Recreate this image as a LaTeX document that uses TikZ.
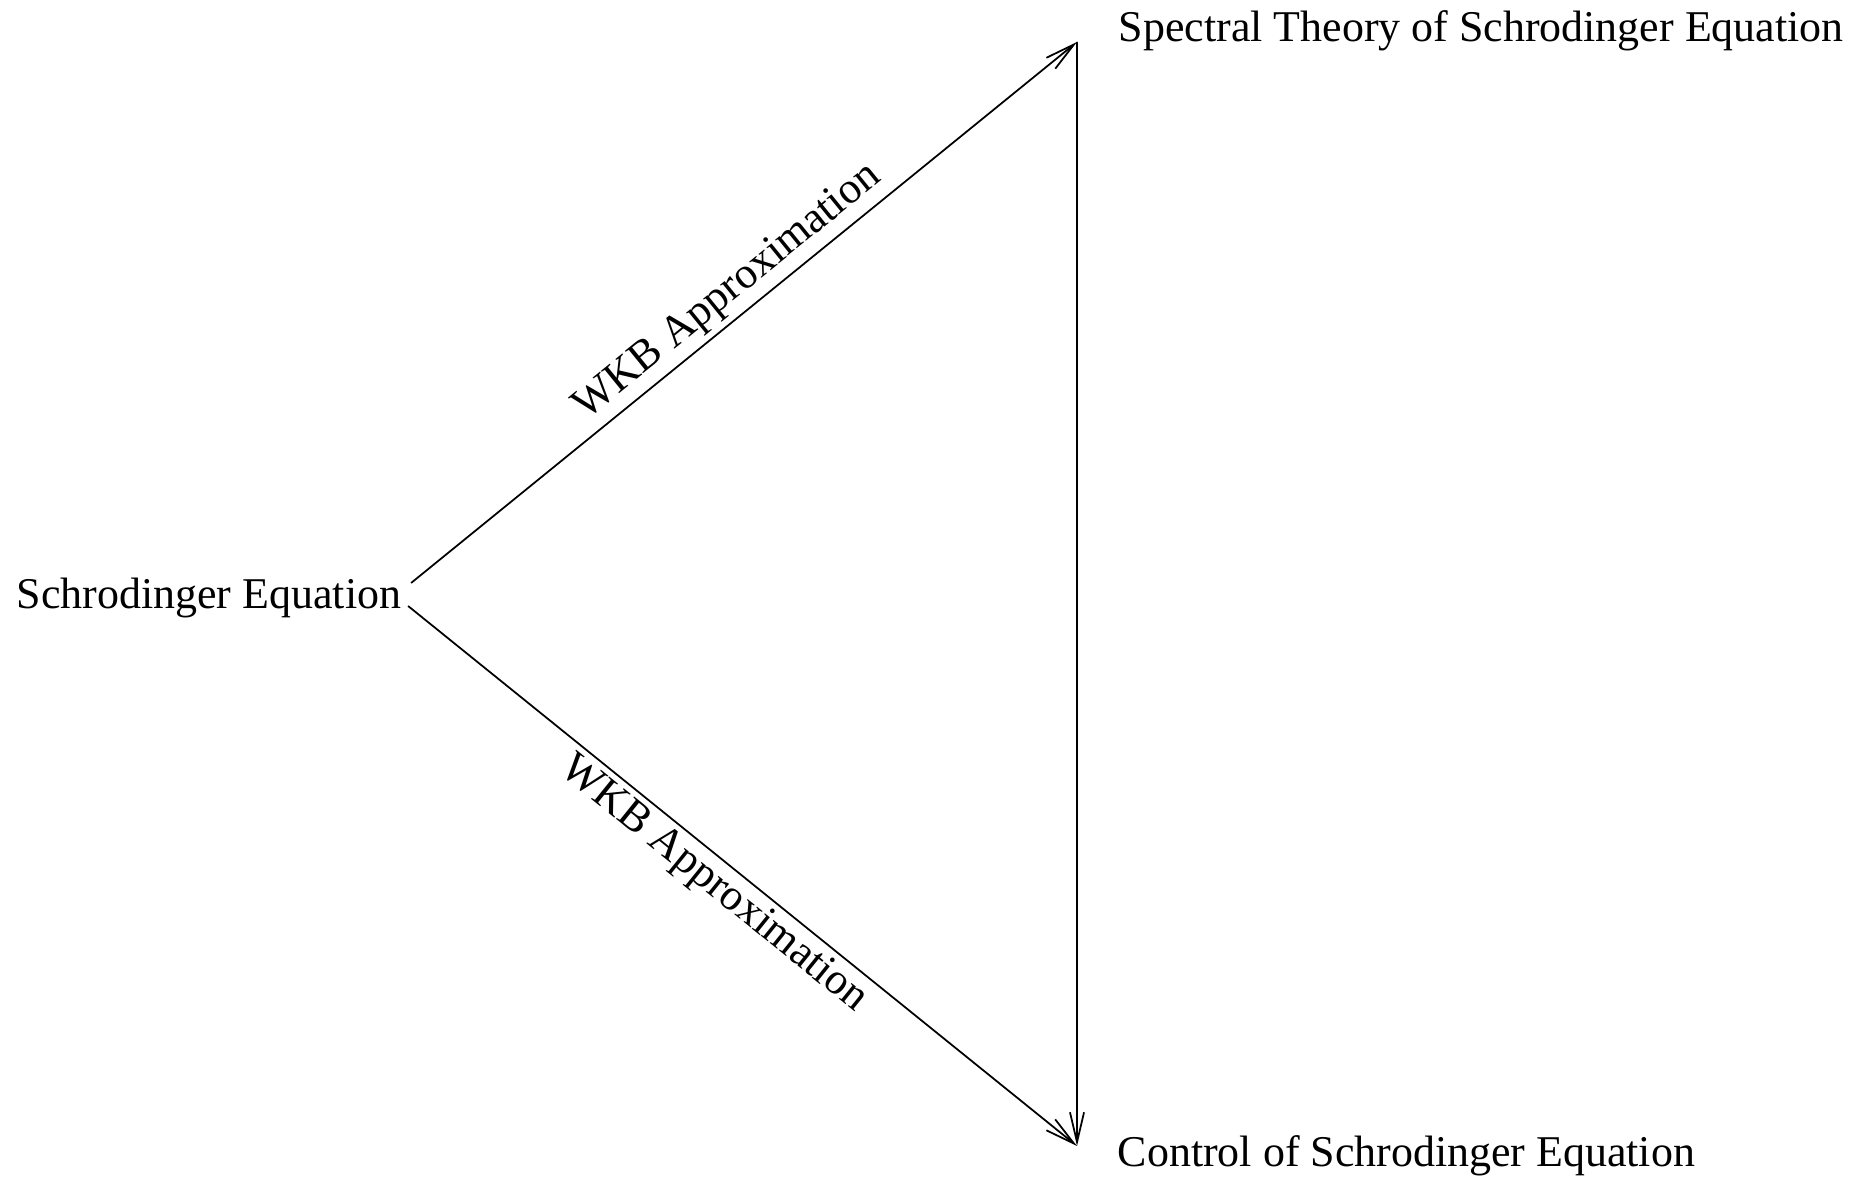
\documentclass[tikz,border=0pt]{standalone}
\usepackage{fontspec}
\setmainfont{Liberation Serif}
\usetikzlibrary{arrows.meta}

\begin{document}
\begin{tikzpicture}[>={Straight Barb[length=8.5pt,width=4pt]}, line width=0.5pt]
        \tikzset{every node/.style={font=\fontsize{12.5}{15}\selectfont, inner sep=0pt}}
        \tikzstyle{wkb}=[sloped, inner sep=1.5pt]
        \useasboundingbox (0,0) rectangle (18.65,11.78);

        \node[anchor=base west] (schr) at (0.16,5.69) {Schrodinger Equation};
        \node[anchor=base west] (spec) at (11.18,11.36) {Spectral Theory of Schrodinger Equation};
        \node[anchor=base west] (ctrl) at (11.17,0.12) {Control of Schrodinger Equation};

        \path[->]
        ([shift={(0.09,0.26)}]schr.base east) edge node[wkb,above] {WKB Approximation} ([xshift=-4.1mm]spec.base west)
        ([shift={(0.06,0.03)}]schr.base east) edge node[wkb,below,pos=0.48] {WKB Approximation} ([shift={(-0.40,0.20)}]ctrl.base west)
        ([xshift=-4.1mm]spec.base west) edge ([shift={(-0.40,0.20)}]ctrl.base west);
    \end{tikzpicture}
\end{document}
